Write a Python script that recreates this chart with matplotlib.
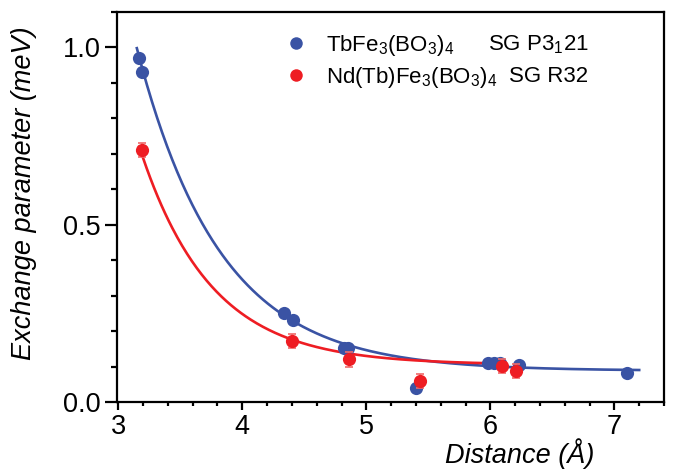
import numpy as np
import matplotlib
matplotlib.use("Agg")
import matplotlib.pyplot as plt
from matplotlib.ticker import MultipleLocator
from matplotlib.lines import Line2D

plt.rcParams['font.family'] = ['Liberation Sans', 'DejaVu Sans']
plt.rcParams['mathtext.fontset'] = 'custom'
plt.rcParams['mathtext.rm'] = 'Liberation Sans'
plt.rcParams['mathtext.it'] = 'Liberation Sans:italic'

# Data
tb_dist = [3.17, 3.19, 4.34, 4.41, 4.82, 4.85, 5.40, 5.985, 6.03, 6.08, 6.23, 7.10]
tb_j = [0.969, 0.932, 0.251, 0.231, 0.153, 0.153, 0.040, 0.111, 0.111, 0.111, 0.103, 0.083]

nd_dist = [3.19, 4.40, 4.86, 5.43, 6.09, 6.21]
nd_j = [0.711, 0.172, 0.120, 0.060, 0.101, 0.087]
nd_err = [0.02, 0.02, 0.02, 0.02, 0.02, 0.02]

# Exponential-decay fit parameters (y0, A, x0, t) and fit ranges
tb_fit = (0.088, 0.91, 3.15, 0.673)
tb_fit_range = (3.15, 7.2)
nd_fit = (0.105, 0.615, 3.17, 0.57)
nd_fit_range = (3.17, 6.12)

blue = '#3A53A4'
red = '#EE1D23'

def decay(x, p):
    y0, a, x0, t = p
    return y0 + a * np.exp(-(x - x0) / t)

fig = plt.figure(figsize=(6.75, 4.70), dpi=100)
ax = fig.add_axes([117/675, 1 - 402/470, (664 - 117)/675, (402 - 12)/470])

xb = np.linspace(*tb_fit_range, 300)
xr = np.linspace(*nd_fit_range, 300)
ax.plot(xb, decay(xb, tb_fit), color=blue, lw=1.9, zorder=2)
ax.plot(xr, decay(xr, nd_fit), color=red, lw=1.9, zorder=2)

ax.plot(tb_dist, tb_j, 'o', color=blue, ms=9.5, mec='none', zorder=3)
ax.errorbar(nd_dist, nd_j, yerr=nd_err, fmt='o', color=red, ms=9.5, mec='none',
            ecolor='#F06A6A', elinewidth=1.2, capsize=3, capthick=1.2, zorder=4)

ax.set_xlim(2.99, 7.4)
ax.set_ylim(0, 1.1)
ax.xaxis.set_major_locator(MultipleLocator(1))
ax.xaxis.set_minor_locator(MultipleLocator(0.2))
ax.yaxis.set_minor_locator(MultipleLocator(0.1))
ax.set_yticks([0.0, 0.5, 1.0])
ax.set_yticklabels(['0.0', '0.5', '1.0'])

for s in ax.spines.values():
    s.set_linewidth(1.6)
ax.tick_params(axis='x', which='major', direction='out', length=6, width=1.6, labelsize=19.5, pad=3)
ax.tick_params(axis='x', which='minor', direction='out', length=3, width=1.6)
ax.tick_params(axis='y', which='major', direction='out', length=9, width=1.6, labelsize=19.5, pad=3)
ax.tick_params(axis='y', which='minor', direction='out', length=4.5, width=1.6)

ax.set_xlabel('Distance (Å)', fontsize=19.5, style='italic')
ax.xaxis.set_label_coords(0.737, -0.093)
ax.set_ylabel('Exchange parameter (meV)', fontsize=19.5, style='italic')
ax.yaxis.set_label_coords(-0.146, 0.536)

handles = [Line2D([], [], ls='none', marker='o', color=blue, ms=9, mec='none'),
           Line2D([], [], ls='none', marker='o', color=red, ms=9, mec='none')]
labels = [r'TbFe$_3$(BO$_3$)$_4$', r'Nd(Tb)Fe$_3$(BO$_3$)$_4$']
leg = ax.legend(handles, labels, loc='upper left', bbox_to_anchor=(0.290, 0.97),
                frameon=False, fontsize=16, handletextpad=0.87, labelspacing=0.33,
                handlelength=1.0, borderaxespad=0)

ax.text(0.862, 0.917, r'SG P3$_1$21', transform=ax.transAxes, ha='right', va='center', fontsize=16)
ax.text(0.862, 0.835, 'SG R32', transform=ax.transAxes, ha='right', va='center', fontsize=16)

fig.savefig('out.png', dpi=100)
